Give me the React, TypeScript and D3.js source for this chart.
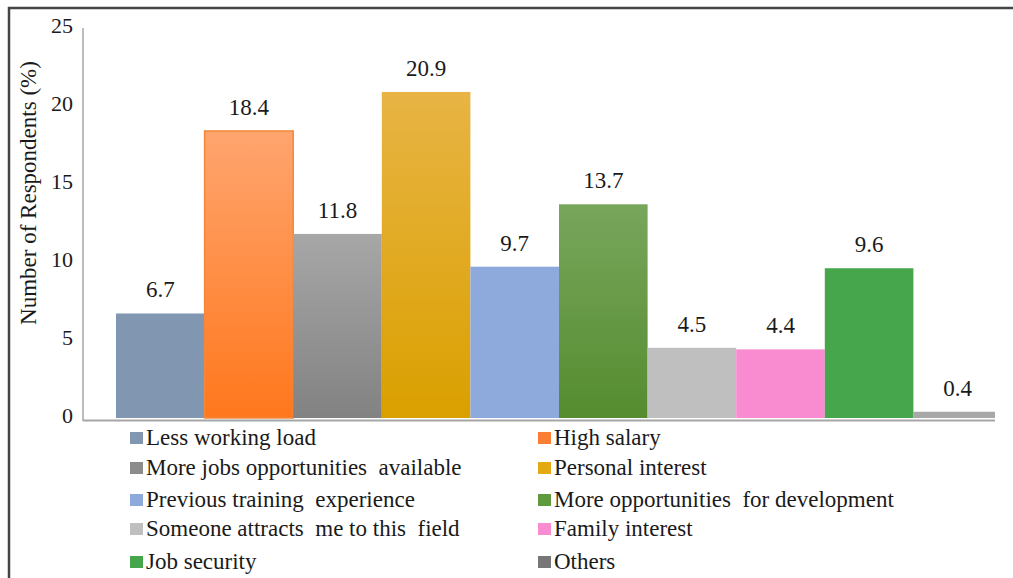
import React, { useEffect, useRef } from "react";
import * as d3 from "d3";

// values
const categories = [
  "Less working load",
  "High salary",
  "More jobs opportunities  available",
  "Personal interest",
  "Previous training  experience",
  "More opportunities  for development",
  "Someone attracts  me to this  field",
  "Family interest",
  "Job security",
  "Others",
];
const values = [6.7, 18.4, 11.8, 20.9, 9.7, 13.7, 4.5, 4.4, 9.6, 0.4];
const yTicks = [0, 5, 10, 15, 20, 25];

// [top, bottom] colour of each bar (flat bars use the same colour twice)
const barColors = [
  ["#8197b1", "#8197b1"],
  ["#ffa56f", "#ff771c"],
  ["#a7a7a7", "#828282"],
  ["#e8b444", "#daa000"],
  ["#8eaadc", "#8eaadc"],
  ["#78a65c", "#558c2f"],
  ["#bfbfbf", "#bfbfbf"],
  ["#f98bd0", "#f98bd0"],
  ["#46a64b", "#46a64b"],
  ["#a8a8a8", "#a8a8a8"],
];
const legendColors = ["#8197b1", "#fb7d36", "#8c8c8c", "#e3aa14", "#8eaadc", "#5f9a3e", "#bfbfbf", "#f98bd0", "#46a64b", "#777777"];

const W = 1013;
const H = 578;
const FONT = "Liberation Serif, Tinos, Times New Roman, DejaVu Serif, serif";

export default function App() {
  const ref = useRef<SVGSVGElement>(null);

  useEffect(() => {
    const svg = d3.select(ref.current);
    svg.selectAll("*").remove();

    const left = 83;
    const right = 995;
    const y = d3.scaleLinear().domain([0, 25]).range([418, 28]);
    const x = d3.scaleBand<string>()
      .domain(categories)
      .range([116, 116 + 88.6 * categories.length])
      .padding(0);

    const defs = svg.append("defs");
    barColors.forEach((c, i) => {
      const lg = defs.append("linearGradient")
        .attr("id", "grad" + i)
        .attr("x1", 0).attr("y1", 0).attr("x2", 0).attr("y2", 1);
      lg.append("stop").attr("offset", "0%").attr("stop-color", c[0]);
      lg.append("stop").attr("offset", "100%").attr("stop-color", c[1]);
    });
    defs.append("clipPath").attr("id", "plotclip")
      .append("rect").attr("x", left).attr("y", 0).attr("width", right - left).attr("height", 421);

    // frame
    svg.append("rect")
      .attr("x", 9).attr("y", 8).attr("width", 1200).attr("height", 1000)
      .attr("fill", "white").attr("stroke", "#454545").attr("stroke-width", 2.5);

    // bars
    const bars = svg.append("g").attr("clip-path", "url(#plotclip)");
    bars.selectAll("rect").data(values).enter().append("rect")
      .attr("x", (d, i) => x(categories[i])!)
      .attr("y", d => y(d))
      .attr("width", x.bandwidth())
      .attr("height", d => y(0) - y(d))
      .attr("fill", (d, i) => `url(#grad${i})`)
      .attr("stroke", (d, i) => (i === 1 ? "#f3883a" : "none"))
      .attr("stroke-width", 1.5);

    const txt = (sel: any, size: number) =>
      sel.style("font-family", FONT).style("font-size", size + "px").attr("fill", "#1a1a1a");

    // data labels
    txt(svg.append("g").selectAll("text").data(values).enter().append("text")
      .attr("x", (d, i) => x(categories[i])! + x.bandwidth() / 2)
      .attr("y", d => y(d) - 16)
      .attr("text-anchor", "middle"), 23)
      .text(d => d.toFixed(1));

    // axes
    svg.append("line")
      .attr("x1", left).attr("x2", left).attr("y1", 28).attr("y2", 421)
      .attr("stroke", "#a6a6a6").attr("stroke-width", 1.5);
    svg.append("line")
      .attr("x1", left).attr("x2", right).attr("y1", 420.5).attr("y2", 420.5)
      .attr("stroke", "#a6a6a6").attr("stroke-width", 2);

    txt(svg.append("g").selectAll("text").data(yTicks).enter().append("text")
      .attr("x", 73)
      .attr("y", d => y(d) + 5)
      .attr("text-anchor", "end"), 22)
      .text(d => d);

    txt(svg.append("text")
      .attr("transform", "translate(36,193) rotate(-90)")
      .attr("text-anchor", "middle"), 23)
      .text("Number of Respondents (%)");

    // legend, two columns
    const leg = svg.append("g");
    const rowY = [438, 468, 500, 529, 562];
    categories.forEach((name, i) => {
      const col = i % 2;
      const row = Math.floor(i / 2);
      const sx = col === 0 ? 130 : 538;
      leg.append("rect")
        .attr("x", sx).attr("y", rowY[row] - 6).attr("width", 13).attr("height", 12)
        .attr("fill", legendColors[i]);
      txt(leg.append("text")
        .attr("x", sx + 16)
        .attr("y", rowY[row] + 7), 23)
        .style("white-space", "pre")
        .text(name);
    });
  }, []);

  return (
    <svg
      ref={ref}
      width={W}
      height={H}
      style={{ position: "absolute", left: 0, top: 0, background: "white" }}
    />
  );
}
